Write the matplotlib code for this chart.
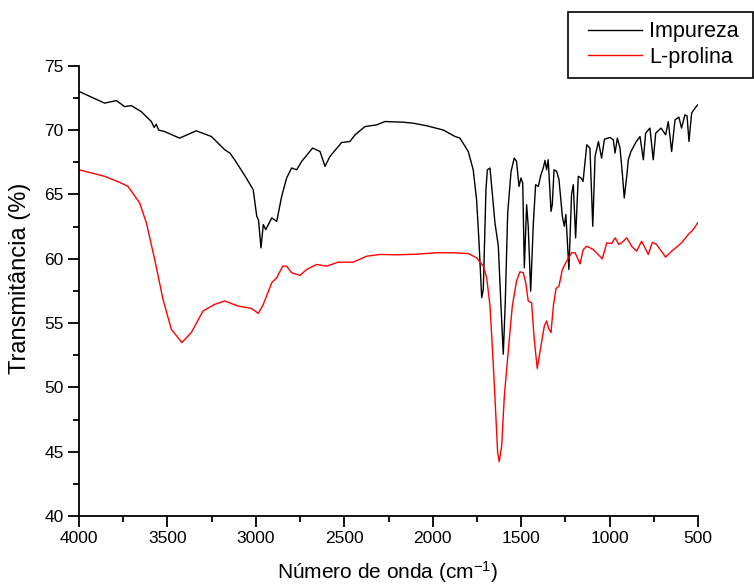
import matplotlib
matplotlib.use("Agg")
import matplotlib.pyplot as plt
from matplotlib.ticker import MultipleLocator
from matplotlib.patches import Rectangle

plt.rcParams['font.family'] = ['Liberation Sans', 'DejaVu Sans']
plt.rcParams['mathtext.fontset'] = 'custom'
plt.rcParams['mathtext.rm'] = 'Liberation Sans'
plt.rcParams['mathtext.default'] = 'regular'

# Impureza (black)
imp_w = [4000, 3855, 3789, 3742, 3704, 3648, 3591, 3575, 3563, 3550, 3516, 3431, 3337, 3252,
         3176, 3146, 3120, 3054, 3015, 2995, 2985, 2971, 2958, 2944, 2910, 2882, 2854, 2826,
         2798, 2769, 2741, 2679, 2637, 2609, 2581, 2515, 2468, 2439, 2383, 2317, 2270, 2166,
         2110, 2034, 1940, 1874, 1846, 1799, 1771, 1752, 1739, 1723, 1714, 1699, 1691, 1676,
         1648, 1629, 1614, 1601, 1590, 1576, 1557, 1539, 1526, 1512, 1501, 1491, 1482, 1469,
         1460, 1446, 1431, 1418, 1403, 1388, 1375, 1365, 1356, 1347, 1331, 1324, 1314, 1299,
         1286, 1267, 1256, 1247, 1230, 1215, 1205, 1192, 1177, 1161, 1150, 1129, 1111, 1095,
         1082, 1063, 1045, 1029, 997, 979, 969, 956, 941, 928, 917, 903, 894, 879, 852, 828,
         809, 796, 772, 753, 739, 709, 683, 668, 649, 630, 608, 593, 574, 562, 551, 536, 517, 502]
imp_v = [73.0, 72.09, 72.29, 71.82, 71.90, 71.43, 70.66, 70.20, 70.45, 70.0, 69.88, 69.37, 69.94, 69.50,
         68.47, 68.2, 67.69, 66.27, 65.36, 63.3, 63.0, 60.84, 62.65, 62.26, 63.17, 62.9, 64.85, 66.27,
         67.05, 66.91, 67.56, 68.60, 68.33, 67.17, 67.95, 69.03, 69.11, 69.63, 70.27, 70.40, 70.66, 70.61,
         70.53, 70.33, 70.0, 69.5, 69.37, 68.33, 66.91, 64.59, 61.49, 56.97, 57.6, 65.36, 66.91, 67.05,
         62.78, 60.97, 56.32, 52.57, 56.5, 63.56, 66.78, 67.82, 67.56, 65.62, 66.27, 65.88, 59.29, 64.2,
         62.52, 57.48, 62.78, 65.75, 65.62, 66.53, 67.05, 67.64, 66.91, 67.69, 63.68, 64.2, 66.91, 66.78,
         66.14, 63.29, 62.52, 63.43, 59.16, 64.98, 65.75, 61.62, 66.40, 66.27, 66.0, 68.85, 68.60, 62.52,
         67.95, 69.11, 67.82, 69.29, 69.42, 69.24, 68.21, 69.37, 68.60, 66.66, 64.72, 66.40, 67.69, 68.33, 69.03, 69.5,
         67.69, 69.76, 70.15, 67.69, 69.76, 70.15, 69.63, 70.66, 68.33, 70.79, 71.0, 70.15, 71.18, 71.1, 69.11, 71.31, 71.70, 71.95]

# L-prolina (red)
pro_w = [4000, 3855, 3770, 3723, 3657, 3619, 3572, 3525, 3478, 3418, 3365, 3299, 3233, 3176,
         3101, 3026, 2986, 2958, 2910, 2882, 2848, 2826, 2798, 2751, 2713, 2657, 2600, 2534,
         2449, 2374, 2298, 2204, 2091, 1978, 1884, 1799, 1752, 1714, 1695, 1676, 1657, 1644,
         1633, 1624, 1610, 1595, 1572, 1550, 1526, 1507, 1488, 1474, 1460, 1441, 1426, 1409,
         1388, 1369, 1356, 1343, 1331, 1318, 1303, 1286, 1267, 1248, 1215, 1195, 1167, 1149,
         1129, 1092, 1041, 1016, 988, 969, 947, 922, 903, 875, 847, 819, 781, 758, 734, 683,
         649, 593, 555, 527, 502]
pro_v = [66.91, 66.40, 65.93, 65.62, 64.33, 62.78, 59.94, 56.84, 54.51, 53.48, 54.26, 55.93, 56.45, 56.71,
         56.32, 56.14, 55.75, 56.45, 58.13, 58.52, 59.42, 59.42, 58.91, 58.70, 59.16, 59.55, 59.42, 59.73,
         59.73, 60.19, 60.33, 60.30, 60.35, 60.46, 60.46, 60.40, 60.07, 59.42, 58.52, 56.32, 51.67, 48.05,
         44.95, 44.22, 45.46, 49.34, 52.96, 56.32, 58.26, 58.98, 58.91, 58.13, 56.71, 56.58, 53.74, 51.47,
         53.22, 54.77, 55.16, 54.51, 54.26, 56.32, 57.67, 57.87, 59.16, 59.68, 60.46, 60.46, 59.6, 60.71,
         60.97, 60.71, 59.99, 61.23, 61.18, 61.62, 61.10, 61.36, 61.62, 60.97, 60.58, 61.36, 60.33, 61.28, 61.10, 60.12,
         60.58, 61.23, 61.88, 62.26, 62.78]

series_labels = ["Impureza", "L-prolina"]

fig = plt.figure(figsize=(7.54, 5.87), dpi=100)
ax = fig.add_axes([79/754, 1-516/587, (698-79)/754, (516-65.7)/587])
l1, = ax.plot(imp_w, imp_v, color='black', lw=1.0, label=series_labels[0])
l2, = ax.plot(pro_w, pro_v, color='red', lw=1.0, label=series_labels[1])

ax.set_xlim(4000, 500)
ax.set_ylim(40, 75)
ax.xaxis.set_major_locator(MultipleLocator(500))
ax.xaxis.set_minor_locator(MultipleLocator(250))
ax.yaxis.set_major_locator(MultipleLocator(5))
ax.yaxis.set_minor_locator(MultipleLocator(2.5))
for s in ['top', 'right']:
    ax.spines[s].set_visible(False)
for s in ['left', 'bottom']:
    ax.spines[s].set_linewidth(1.3)
ax.tick_params(which='major', direction='out', length=8, width=1.3, labelsize=12.5, pad=3)
ax.tick_params(which='minor', direction='out', length=4, width=1.3)

fig.text(388/754, 1-572/587, "Número de onda (cm$^{-1}$)", fontsize=15, ha='center', va='center')
fig.text(20/754, 1-278/587, "Transmitância (%)", fontsize=17, ha='center', va='center',
         rotation=90)

leg = fig.legend(handles=[l1, l2], loc='upper left', bbox_to_anchor=(588/754, 1-21.5/587),
                 bbox_transform=fig.transFigure, fontsize=15.5, frameon=False,
                 handlelength=2.5, handletextpad=0.33, borderpad=0.0,
                 labelspacing=0.21, borderaxespad=0)
fig.patches.append(Rectangle((567.5/754, 1-78/587), 185/754, 66/587,
                             transform=fig.transFigure, fill=False, edgecolor='black',
                             linewidth=1.2))

fig.savefig("out.png", dpi=100)
